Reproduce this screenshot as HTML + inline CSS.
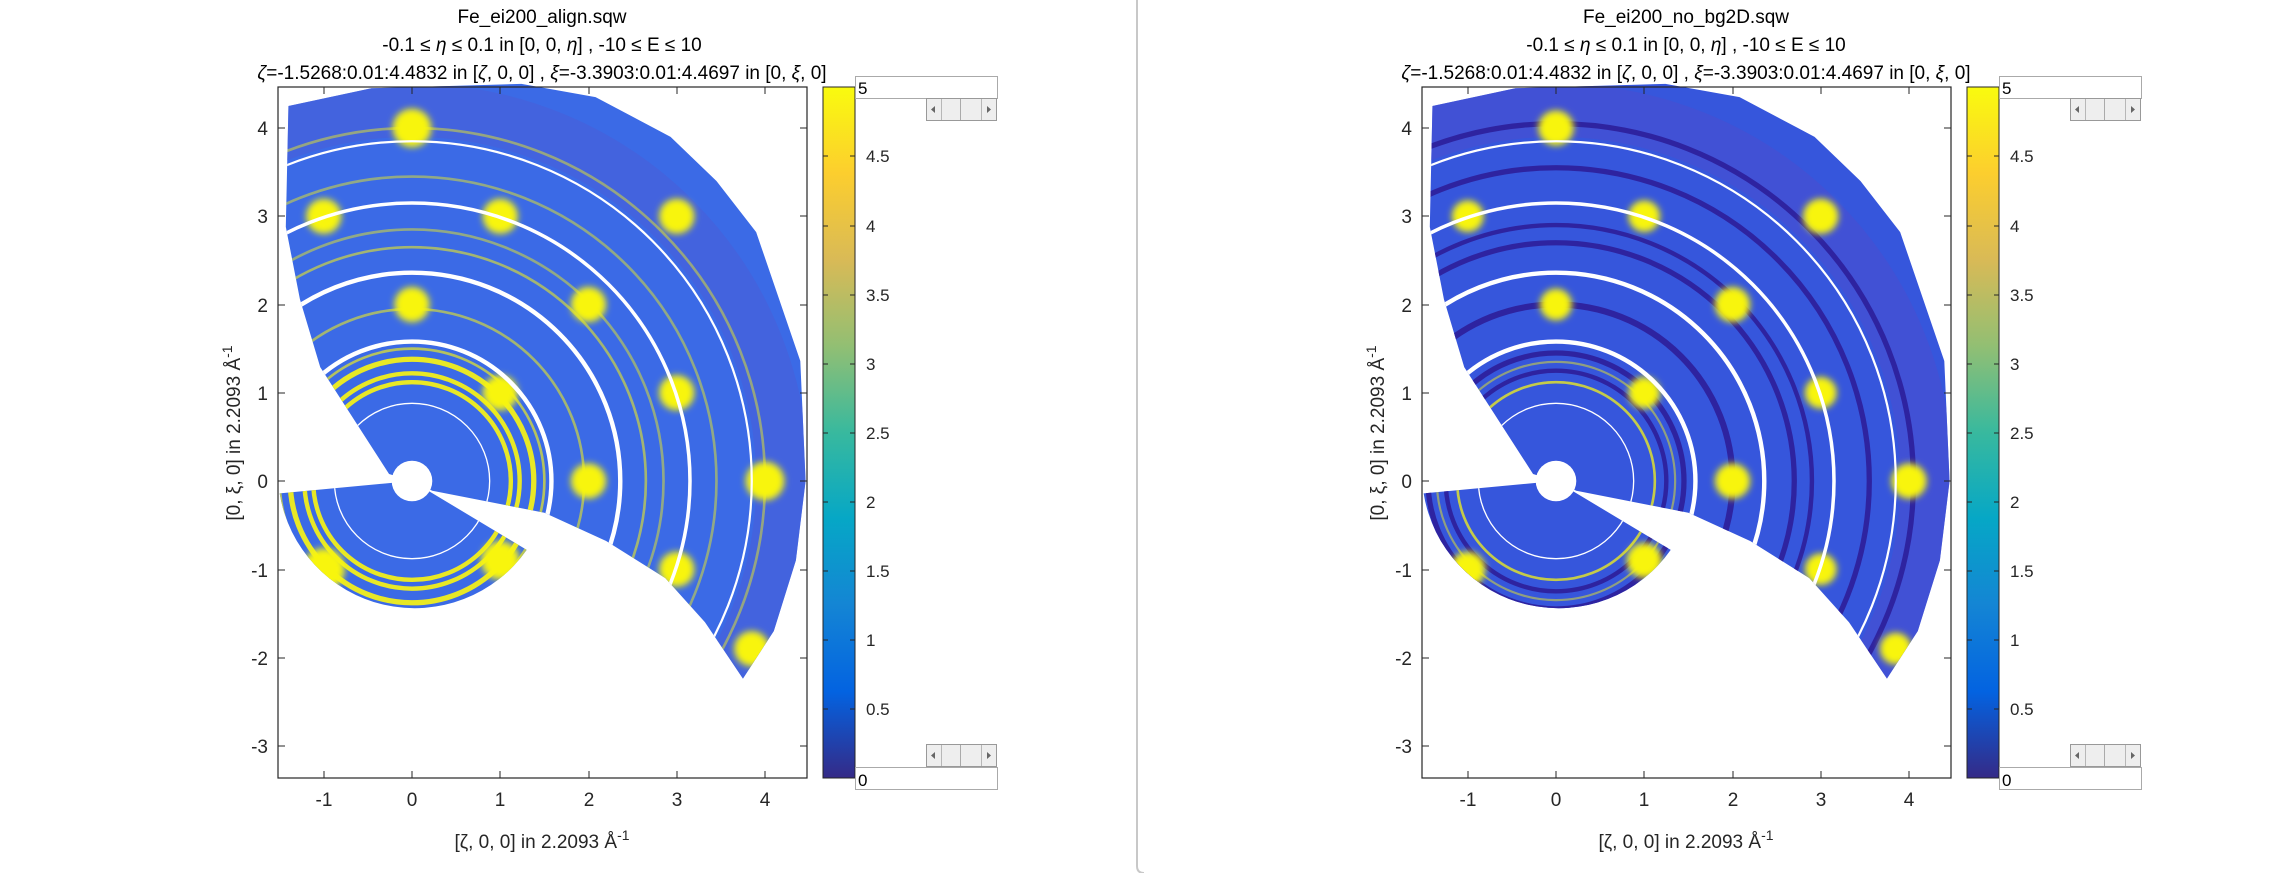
<!DOCTYPE html>
<html><head><meta charset="utf-8"><style>
html,body{margin:0;padding:0;background:#fff;}
svg{display:block;font-family:"Liberation Sans",sans-serif;}
</style></head><body>
<svg width="2275" height="873" viewBox="0 0 2275 873" xmlns="http://www.w3.org/2000/svg">
<defs>
<linearGradient id="parula" x1="0" y1="1" x2="0" y2="0">
<stop offset="0" stop-color="#352A87"/><stop offset="0.125" stop-color="#0363E1"/>
<stop offset="0.25" stop-color="#1485D4"/><stop offset="0.375" stop-color="#06A7C6"/>
<stop offset="0.5" stop-color="#38B99E"/><stop offset="0.625" stop-color="#92BF73"/>
<stop offset="0.75" stop-color="#D9BA56"/><stop offset="0.875" stop-color="#FCCE2E"/>
<stop offset="1" stop-color="#F9FB0E"/></linearGradient>
<clipPath id="reg">
<polygon points="0,0 0.23,-0.11 1.5,-0.36 2.2,-0.68 2.87,-1.1 3.32,-1.6 3.75,-2.24 4.1,-1.7 4.35,-0.9 4.46,0 4.4,1.36 3.9,2.82 3.45,3.4 2.93,3.9 2.08,4.35 1.24,4.5 -0.46,4.45 -1.4,4.25 -1.43,2.88 -1.27,2.06 -1.04,1.29 -0.26,0.08"/>
<path d="M0,0 L-1.5,-0.14 A1.55,1.55 0 0 1 1.3,-0.78 Z"/>
</clipPath>
<filter id="bl" x="-50%" y="-50%" width="200%" height="200%"><feGaussianBlur stdDeviation="0.04"/></filter>
</defs>

<!-- divider -->
<line x1="1137" y1="0" x2="1137" y2="866" stroke="#c8c8c8" stroke-width="2"/>
<path d="M1137,866 Q1137,873 1144,873" fill="none" stroke="#c8c8c8" stroke-width="2"/>

<!-- ============ LEFT PLOT ============ -->
<g transform="translate(412,481) scale(88.25,-88.25)">
<g clip-path="url(#reg)">
<rect x="-2" y="-3" width="7" height="8" fill="#3b6ae6"/>
<circle r="4.2" fill="none" stroke="#4a5fd8" stroke-width="0.6" opacity="0.6"/>
<g fill="none" stroke="#e8e826">
<circle r="1.12" stroke-width="0.05"/><circle r="1.22" stroke-width="0.05"/><circle r="1.38" stroke-width="0.06"/>
<circle r="1.5" stroke-width="0.03" opacity="0.7"/>
<circle r="1.95" stroke-width="0.03" opacity="0.6"/><circle r="2.65" stroke-width="0.03" opacity="0.6"/>
<circle r="2.85" stroke-width="0.03" opacity="0.5"/><circle r="3.45" stroke-width="0.03" opacity="0.5"/>
<circle r="4.0" stroke-width="0.03" opacity="0.5"/>
</g>
<g fill="#f8f50e" filter="url(#bl)">
<circle cx="1" cy="1" r="0.2"/><circle cx="2" cy="0" r="0.2"/><circle cx="0" cy="2" r="0.2"/>
<circle cx="2" cy="2" r="0.2"/><circle cx="1" cy="3" r="0.2"/><circle cx="-1" cy="3" r="0.2"/>
<circle cx="0" cy="4" r="0.22"/><circle cx="3" cy="3" r="0.2"/><circle cx="3" cy="1" r="0.2"/>
<circle cx="4" cy="0" r="0.22"/><circle cx="3" cy="-1" r="0.2"/><circle cx="3.85" cy="-1.9" r="0.2"/>
<circle cx="-1" cy="-1" r="0.24"/><circle cx="1" cy="-0.9" r="0.22"/>
</g>
<g fill="none" stroke="#fff">
<circle r="1.58" stroke-width="0.05"/><circle r="2.36" stroke-width="0.05"/>
<circle r="3.15" stroke-width="0.04"/><circle r="3.85" stroke-width="0.025"/>
<circle r="0.88" stroke-width="0.015"/>
</g>
</g>
<circle r="0.23" fill="#fff"/>
</g>
<!-- axes left -->
<rect x="278" y="87" width="529" height="691" fill="none" stroke="#262626" stroke-width="1.2"/>
<g stroke="#262626" stroke-width="1">
<path d="M324,778v-7M412,778v-7M500,778v-7M589,778v-7M677,778v-7M765,778v-7M324,87v7M412,87v7M500,87v7M589,87v7M677,87v7M765,87v7"/>
<path d="M278,746h7M278,658h7M278,570h7M278,481h7M278,393h7M278,305h7M278,216h7M278,128h7M807,746h-7M807,658h-7M807,570h-7M807,481h-7M807,393h-7M807,305h-7M807,216h-7M807,128h-7"/>
</g>
<g fill="#262626" font-size="19" text-anchor="middle">
<text x="324" y="806">-1</text><text x="412" y="806">0</text><text x="500" y="806">1</text>
<text x="589" y="806">2</text><text x="677" y="806">3</text><text x="765" y="806">4</text>
</g>
<g fill="#262626" font-size="19" text-anchor="end">
<text x="268" y="753">-3</text><text x="268" y="665">-2</text><text x="268" y="577">-1</text>
<text x="268" y="488">0</text><text x="268" y="400">1</text><text x="268" y="312">2</text>
<text x="268" y="223">3</text><text x="268" y="135">4</text>
</g>
<text x="542" y="848" font-size="19" fill="#262626" text-anchor="middle">[ζ, 0, 0] in 2.2093 Å<tspan dy="-8" font-size="14">-1</tspan></text>
<text transform="translate(240,433) rotate(-90)" font-size="19" fill="#262626" text-anchor="middle">[0, ξ, 0] in 2.2093 Å<tspan dy="-8" font-size="14">-1</tspan></text>
<g font-size="19" fill="#000" text-anchor="middle">
<text x="542" y="23">Fe_ei200_align.sqw</text>
<text x="542" y="51">-0.1 ≤ <tspan font-style="italic">η</tspan> ≤ 0.1 in [0, 0, <tspan font-style="italic">η</tspan>] , -10 ≤ E ≤ 10</text>
<text x="542" y="79"><tspan font-style="italic">ζ</tspan>=-1.5268:0.01:4.4832 in [<tspan font-style="italic">ζ</tspan>, 0, 0] , <tspan font-style="italic">ξ</tspan>=-3.3903:0.01:4.4697 in [0, <tspan font-style="italic">ξ</tspan>, 0]</text>
</g>
<!-- colorbar left -->
<rect x="823" y="87" width="32" height="691" fill="url(#parula)" stroke="#262626" stroke-width="1"/>
<g stroke="#262626"><path d="M855,709h-5M855,640h-5M855,571h-5M855,502h-5M855,433h-5M855,364h-5M855,295h-5M855,226h-5M855,156h-5M823,709h5M823,640h5M823,571h5M823,502h5M823,433h5M823,364h5M823,295h5M823,226h5M823,156h5"/></g>
<g fill="#262626" font-size="17">
<text x="866" y="715">0.5</text><text x="866" y="646">1</text><text x="866" y="577">1.5</text>
<text x="866" y="508">2</text><text x="866" y="439">2.5</text><text x="866" y="370">3</text>
<text x="866" y="301">3.5</text><text x="866" y="232">4</text><text x="866" y="162">4.5</text>
</g>
<!-- widgets left -->
<rect x="855.5" y="76.5" width="142" height="22" fill="#fff" stroke="#aaa"/>
<text x="858" y="94" font-size="17" fill="#000">5</text>
<g transform="translate(926,98)"><rect x="0.5" y="0.5" width="70" height="22" fill="#eee" stroke="#999"/><rect x="15" y="1" width="0.8" height="21" fill="#aaa"/><rect x="34" y="1" width="1" height="21" fill="#aaa"/><rect x="55" y="1" width="0.8" height="21" fill="#aaa"/><path d="M9,8v7l-4,-3.5z M61,8v7l4,-3.5z" fill="#666"/></g>
<rect x="855.5" y="767.5" width="142" height="22" fill="#fff" stroke="#aaa"/>
<text x="858" y="786" font-size="17" fill="#000">0</text>
<g transform="translate(926,744)"><rect x="0.5" y="0.5" width="70" height="22" fill="#eee" stroke="#999"/><rect x="15" y="1" width="0.8" height="21" fill="#aaa"/><rect x="34" y="1" width="1" height="21" fill="#aaa"/><rect x="55" y="1" width="0.8" height="21" fill="#aaa"/><path d="M9,8v7l-4,-3.5z M61,8v7l4,-3.5z" fill="#666"/></g>

<!-- ============ RIGHT PLOT ============ -->
<g transform="translate(1556,481) scale(88.25,-88.25)">
<g clip-path="url(#reg)">
<rect x="-2" y="-3" width="7" height="8" fill="#3656dc"/>
<circle r="4.2" fill="none" stroke="#4a4fd0" stroke-width="0.6" opacity="0.6"/>
<g fill="none" stroke="#2e23a0">
<circle r="1.25" stroke-width="0.05"/><circle r="1.45" stroke-width="0.06"/>
<circle r="2.0" stroke-width="0.07"/><circle r="2.7" stroke-width="0.06"/>
<circle r="2.9" stroke-width="0.05"/><circle r="3.55" stroke-width="0.06"/><circle r="4.05" stroke-width="0.06"/>
</g>
<g fill="none" stroke="#e8e826"><circle r="1.12" stroke-width="0.03" opacity="0.8"/><circle r="1.35" stroke-width="0.025" opacity="0.5"/></g>
<g fill="#f8f50e" filter="url(#bl)">
<circle cx="1" cy="1" r="0.18"/><circle cx="2" cy="0" r="0.2"/><circle cx="0" cy="2" r="0.18"/>
<circle cx="2" cy="2" r="0.2"/><circle cx="1" cy="3" r="0.18"/><circle cx="-1" cy="3" r="0.18"/>
<circle cx="0" cy="4" r="0.2"/><circle cx="3" cy="3" r="0.2"/><circle cx="3" cy="1" r="0.18"/>
<circle cx="4" cy="0" r="0.2"/><circle cx="3" cy="-1" r="0.18"/><circle cx="3.85" cy="-1.9" r="0.18"/>
<circle cx="-1" cy="-1" r="0.2"/><circle cx="1" cy="-0.9" r="0.2"/>
</g>
<g fill="none" stroke="#fff">
<circle r="1.58" stroke-width="0.05"/><circle r="2.36" stroke-width="0.05"/>
<circle r="3.15" stroke-width="0.04"/><circle r="3.85" stroke-width="0.025"/>
<circle r="0.88" stroke-width="0.015"/>
</g>
</g>
<circle r="0.23" fill="#fff"/>
</g>
<g transform="translate(1144,0)">
<rect x="278" y="87" width="529" height="691" fill="none" stroke="#262626" stroke-width="1.2"/>
<g stroke="#262626" stroke-width="1">
<path d="M324,778v-7M412,778v-7M500,778v-7M589,778v-7M677,778v-7M765,778v-7M324,87v7M412,87v7M500,87v7M589,87v7M677,87v7M765,87v7"/>
<path d="M278,746h7M278,658h7M278,570h7M278,481h7M278,393h7M278,305h7M278,216h7M278,128h7M807,746h-7M807,658h-7M807,570h-7M807,481h-7M807,393h-7M807,305h-7M807,216h-7M807,128h-7"/>
</g>
<g fill="#262626" font-size="19" text-anchor="middle">
<text x="324" y="806">-1</text><text x="412" y="806">0</text><text x="500" y="806">1</text>
<text x="589" y="806">2</text><text x="677" y="806">3</text><text x="765" y="806">4</text>
</g>
<g fill="#262626" font-size="19" text-anchor="end">
<text x="268" y="753">-3</text><text x="268" y="665">-2</text><text x="268" y="577">-1</text>
<text x="268" y="488">0</text><text x="268" y="400">1</text><text x="268" y="312">2</text>
<text x="268" y="223">3</text><text x="268" y="135">4</text>
</g>
<text x="542" y="848" font-size="19" fill="#262626" text-anchor="middle">[ζ, 0, 0] in 2.2093 Å<tspan dy="-8" font-size="14">-1</tspan></text>
<text transform="translate(240,433) rotate(-90)" font-size="19" fill="#262626" text-anchor="middle">[0, ξ, 0] in 2.2093 Å<tspan dy="-8" font-size="14">-1</tspan></text>
<g font-size="19" fill="#000" text-anchor="middle">
<text x="542" y="23">Fe_ei200_no_bg2D.sqw</text>
<text x="542" y="51">-0.1 ≤ <tspan font-style="italic">η</tspan> ≤ 0.1 in [0, 0, <tspan font-style="italic">η</tspan>] , -10 ≤ E ≤ 10</text>
<text x="542" y="79"><tspan font-style="italic">ζ</tspan>=-1.5268:0.01:4.4832 in [<tspan font-style="italic">ζ</tspan>, 0, 0] , <tspan font-style="italic">ξ</tspan>=-3.3903:0.01:4.4697 in [0, <tspan font-style="italic">ξ</tspan>, 0]</text>
</g>
<rect x="823" y="87" width="32" height="691" fill="url(#parula)" stroke="#262626" stroke-width="1"/>
<g stroke="#262626"><path d="M855,709h-5M855,640h-5M855,571h-5M855,502h-5M855,433h-5M855,364h-5M855,295h-5M855,226h-5M855,156h-5M823,709h5M823,640h5M823,571h5M823,502h5M823,433h5M823,364h5M823,295h5M823,226h5M823,156h5"/></g>
<g fill="#262626" font-size="17">
<text x="866" y="715">0.5</text><text x="866" y="646">1</text><text x="866" y="577">1.5</text>
<text x="866" y="508">2</text><text x="866" y="439">2.5</text><text x="866" y="370">3</text>
<text x="866" y="301">3.5</text><text x="866" y="232">4</text><text x="866" y="162">4.5</text>
</g>
<rect x="855.5" y="76.5" width="142" height="22" fill="#fff" stroke="#aaa"/>
<text x="858" y="94" font-size="17" fill="#000">5</text>
<g transform="translate(926,98)"><rect x="0.5" y="0.5" width="70" height="22" fill="#eee" stroke="#999"/><rect x="15" y="1" width="0.8" height="21" fill="#aaa"/><rect x="34" y="1" width="1" height="21" fill="#aaa"/><rect x="55" y="1" width="0.8" height="21" fill="#aaa"/><path d="M9,8v7l-4,-3.5z M61,8v7l4,-3.5z" fill="#666"/></g>
<rect x="855.5" y="767.5" width="142" height="22" fill="#fff" stroke="#aaa"/>
<text x="858" y="786" font-size="17" fill="#000">0</text>
<g transform="translate(926,744)"><rect x="0.5" y="0.5" width="70" height="22" fill="#eee" stroke="#999"/><rect x="15" y="1" width="0.8" height="21" fill="#aaa"/><rect x="34" y="1" width="1" height="21" fill="#aaa"/><rect x="55" y="1" width="0.8" height="21" fill="#aaa"/><path d="M9,8v7l-4,-3.5z M61,8v7l4,-3.5z" fill="#666"/></g>
</g>
</svg>
</body></html>
